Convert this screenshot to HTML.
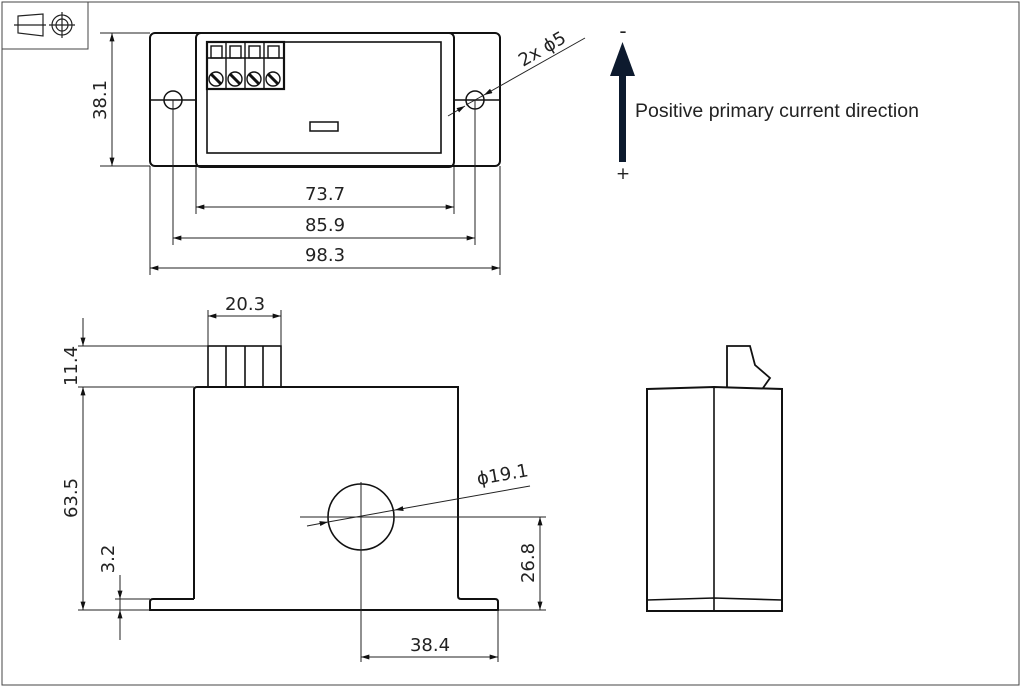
<!DOCTYPE html>
<html><head><meta charset="utf-8"><style>
html,body{margin:0;padding:0;background:#fff;width:1022px;height:688px;overflow:hidden}
svg text{font-family:"DejaVu Sans","Liberation Sans",sans-serif;fill:#222}
</style></head><body>
<svg width="1022" height="688" viewBox="0 0 1022 688" xmlns="http://www.w3.org/2000/svg">
<defs>
<marker id="a" viewBox="0 0 10 6" refX="10" refY="3" markerWidth="12" markerHeight="5" orient="auto-start-reverse" markerUnits="userSpaceOnUse"><path d="M0,0 L10,3 L0,6z" fill="#111"/></marker>
</defs>
<g fill="none" stroke="#444" stroke-width="1">
<rect x="2" y="2" width="1017" height="683"/>
<rect x="2" y="2" width="86" height="47"/>
</g>
<g fill="none" stroke="#222" stroke-width="1.2">
<path d="M18,16 L43,14 L43,36 L18,33z"/>
<line x1="14" y1="25" x2="46" y2="25"/>
<circle cx="62" cy="25" r="10"/><circle cx="62" cy="25" r="6"/>
<line x1="49" y1="25" x2="75" y2="25"/><line x1="62" y1="12" x2="62" y2="38"/>
</g>

<g fill="none" stroke="#111" stroke-width="2">
<rect x="150" y="33" width="350" height="133" rx="5"/>
<rect x="196" y="33" width="258" height="134" rx="5"/>
<rect x="207" y="42" width="234" height="111" stroke-width="1.6"/>
<rect x="207" y="42" width="77" height="47" stroke-width="2.2"/>
<rect x="310" y="122" width="28" height="9" stroke-width="1.5"/>
<line x1="150" y1="100" x2="196" y2="100" stroke-width="1.6"/>
<line x1="454" y1="100" x2="500" y2="100" stroke-width="1.6"/>
</g>
<g fill="none" stroke="#111" stroke-width="1.4">
<path d="M226,42V89M245,42V89M264,42V89M207,58H284"/>
<rect x="211" y="46" width="11" height="12"/><rect x="230" y="46" width="11" height="12"/><rect x="249" y="46" width="11" height="12"/><rect x="268" y="46" width="11" height="12"/>
<circle cx="216" cy="79" r="7"/><circle cx="235" cy="79" r="7"/><circle cx="254" cy="79" r="7"/><circle cx="273" cy="79" r="7"/>
</g>
<g stroke="#111" stroke-width="3">
<path d="M211,74L221,84M230,74L240,84M249,74L259,84M268,74L278,84"/>
</g>
<g fill="none" stroke="#111" stroke-width="1.5">
<circle cx="173" cy="100" r="9"/><circle cx="475" cy="100" r="9"/>
</g>
<g stroke="#222" stroke-width="1" fill="none">
<line x1="173" y1="100" x2="173" y2="245"/>
<line x1="475" y1="100" x2="475" y2="245"/>
<line x1="196" y1="167" x2="196" y2="214"/>
<line x1="454" y1="167" x2="454" y2="214"/>
<line x1="150" y1="166" x2="150" y2="275"/>
<line x1="500" y1="166" x2="500" y2="275"/>
<line x1="100" y1="33" x2="150" y2="33"/>
<line x1="100" y1="166" x2="150" y2="166"/>
<line x1="112" y1="33" x2="112" y2="166" marker-start="url(#a)" marker-end="url(#a)"/>
<line x1="196" y1="207" x2="454" y2="207" marker-start="url(#a)" marker-end="url(#a)"/>
<line x1="173" y1="238" x2="475" y2="238" marker-start="url(#a)" marker-end="url(#a)"/>
<line x1="150" y1="268" x2="500" y2="268" marker-start="url(#a)" marker-end="url(#a)"/>
<line x1="448" y1="116" x2="465" y2="106" marker-end="url(#a)"/>
<line x1="585" y1="38" x2="484" y2="95" marker-end="url(#a)"/>
<line x1="466" y1="105" x2="484" y2="95"/>
</g>
<text x="325" y="200" font-size="18" text-anchor="middle">73.7</text>
<text x="325" y="231" font-size="18" text-anchor="middle">85.9</text>
<text x="325" y="261" font-size="18" text-anchor="middle">98.3</text>
<text transform="translate(106,100) rotate(-90)" font-size="18" text-anchor="middle">38.1</text>
<text transform="translate(523,67) rotate(-30)" font-size="18">2x  ϕ5</text>

<rect x="619" y="72" width="7" height="90" fill="#0d1a2e"/>
<path d="M622.5,42 L635,76 L610,76z" fill="#0d1a2e"/>
<text x="623" y="38" font-size="20" text-anchor="middle">-</text>
<text x="623" y="179" font-size="17" text-anchor="middle">+</text>
<text x="635" y="117" font-size="19.5" style="font-family:'Liberation Sans',sans-serif">Positive primary current direction</text>

<g fill="none" stroke="#111" stroke-width="2">
<path d="M194,599 V390 Q194,387 197,387 H458 V596 Q458,599 461,599 H495 Q498,599 498,602 V610 H150 V602 Q150,599 153,599 H194"/>
<rect x="208" y="346" width="73" height="41" stroke-width="1.6"/>
<path d="M226,346V387M245,346V387M263,346V387" stroke-width="1.6"/>
<circle cx="361" cy="517" r="33" stroke-width="1.6"/>
</g>
<g stroke="#222" stroke-width="1" fill="none">
<line x1="78" y1="346" x2="208" y2="346"/>
<line x1="78" y1="387" x2="194" y2="387"/>
<line x1="78" y1="610" x2="150" y2="610"/>
<line x1="115" y1="599" x2="150" y2="599"/>
<line x1="208" y1="310" x2="208" y2="346"/>
<line x1="281" y1="310" x2="281" y2="346"/>
<line x1="208" y1="316" x2="281" y2="316" marker-start="url(#a)" marker-end="url(#a)"/>
<line x1="83" y1="318" x2="83" y2="346" marker-end="url(#a)"/>
<line x1="83" y1="387" x2="83" y2="610" marker-start="url(#a)" marker-end="url(#a)"/>
<line x1="120" y1="575" x2="120" y2="599" marker-end="url(#a)"/>
<line x1="120" y1="640" x2="120" y2="610" marker-end="url(#a)"/>
<line x1="120" y1="599" x2="120" y2="610"/>
<line x1="300" y1="517" x2="546" y2="517"/>
<line x1="361" y1="482" x2="361" y2="662"/>
<line x1="498" y1="610" x2="498" y2="662"/>
<line x1="498" y1="610" x2="546" y2="610"/>
<line x1="540" y1="517" x2="540" y2="610" marker-start="url(#a)" marker-end="url(#a)"/>
<line x1="361" y1="657" x2="498" y2="657" marker-start="url(#a)" marker-end="url(#a)"/>
<line x1="530" y1="486" x2="395" y2="510" marker-end="url(#a)"/>
<line x1="307" y1="526" x2="328" y2="522" marker-end="url(#a)"/>
<line x1="328" y1="522" x2="395" y2="510"/>
</g>
<text x="245" y="310" font-size="18" text-anchor="middle">20.3</text>
<text transform="translate(77,366) rotate(-90)" font-size="18" text-anchor="middle">11.4</text>
<text transform="translate(77,498) rotate(-90)" font-size="18" text-anchor="middle">63.5</text>
<text transform="translate(114,559) rotate(-90)" font-size="18" text-anchor="middle">3.2</text>
<text transform="translate(534,563) rotate(-90)" font-size="18" text-anchor="middle">26.8</text>
<text x="430" y="651" font-size="18" text-anchor="middle">38.4</text>
<text transform="translate(478,485) rotate(-10)" font-size="18">ϕ19.1</text>

<g fill="none" stroke="#111" stroke-width="2">
<path d="M647,389 L714,387 L782,389 V611 H647z"/>
<line x1="714" y1="387" x2="714" y2="611" stroke-width="1.6"/>
<path d="M647,600 L714,598 L782,600" stroke-width="1.6"/>
<path d="M727,387 V346 H750 L755,365 L770,378 L763,388" stroke-width="1.8"/>
</g>
</svg>
</body></html>
